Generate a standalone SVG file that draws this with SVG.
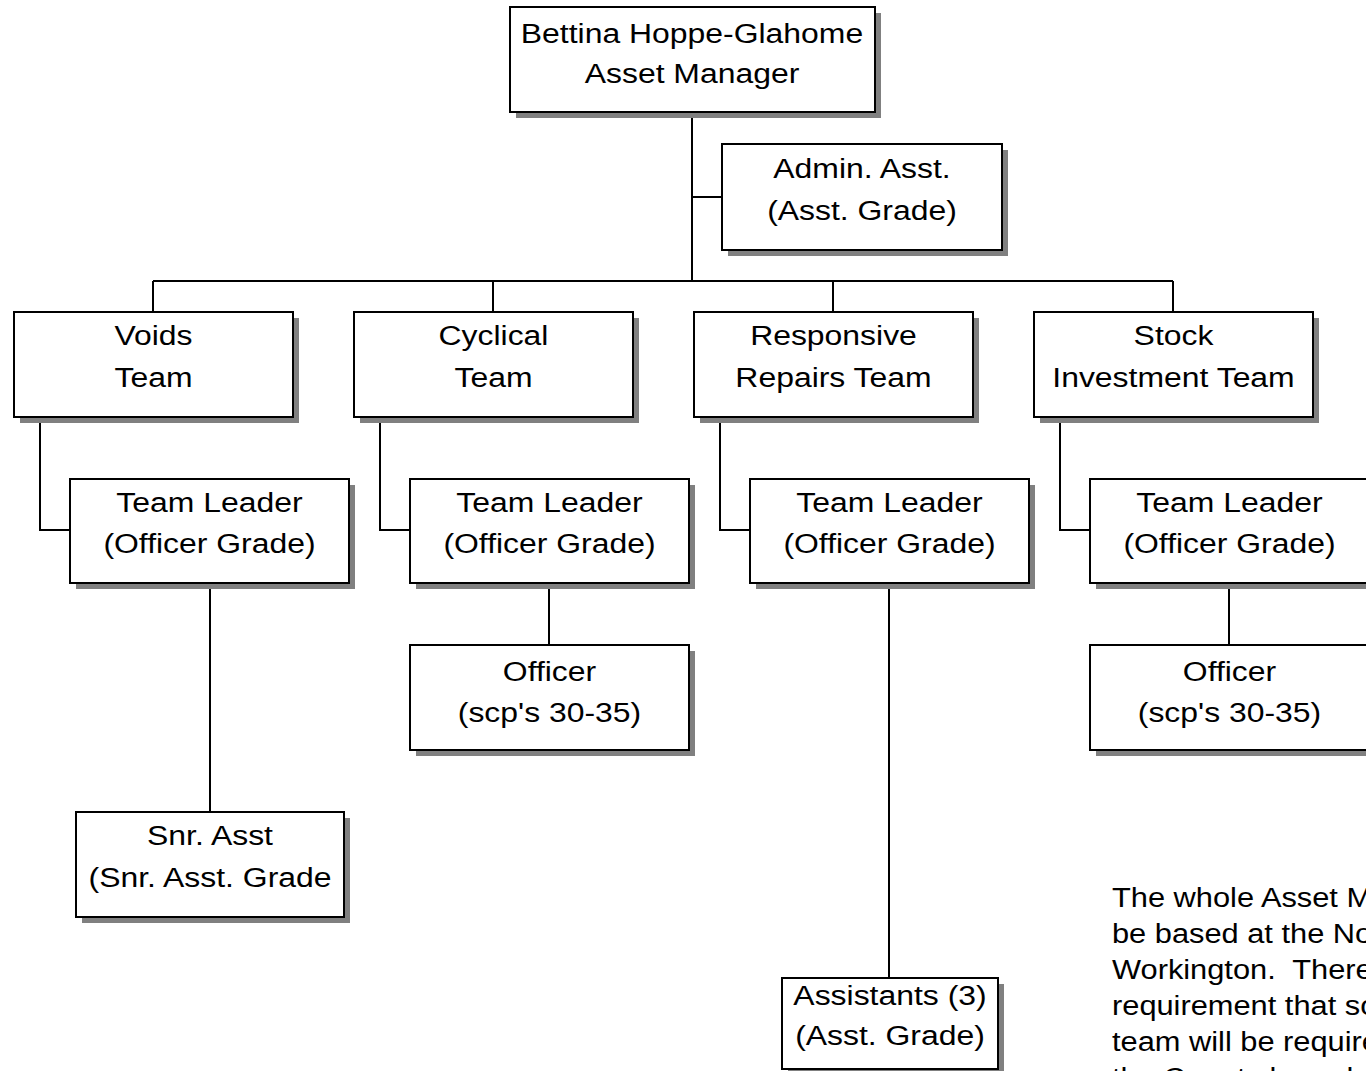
<svg xmlns="http://www.w3.org/2000/svg" width="1366" height="1071" viewBox="0 0 1366 1071">
<style>
.sh{fill:#808080}
.bx{fill:#fff;stroke:#000;stroke-width:2}
.t{font-family:"Liberation Sans",Arial,sans-serif;font-size:28px;fill:#000;text-anchor:middle}
.p{font-family:"Liberation Sans",Arial,sans-serif;font-size:28px;fill:#000;white-space:pre}
.c{fill:none;stroke:#000;stroke-width:2}
</style>
<rect width="1366" height="1071" fill="#fff"/>
<g id="connectors">
<path class="c" d="M692 112V281M692 197H722M153 281H1173M153 281V312M493 281V312M833 281V312M1173 281V312"/>
<path class="c" d="M40 417V530H70M380 417V530H410M720 417V530H750M1060 417V530H1090"/>
<path class="c" d="M210 583V812M549 583V645M889 583V978M1229 583V645"/>
</g>
<g id="n-manager"><rect class="sh" x="516" y="13" width="365" height="105"/><rect class="bx" x="510" y="7" width="365" height="105"/><text class="t" transform="translate(692 43) scale(1.14 1)">Bettina Hoppe-Glahome</text><text class="t" transform="translate(692 83) scale(1.14 1)">Asset Manager</text></g>
<g id="n-admin"><rect class="sh" x="728" y="150" width="280" height="106"/><rect class="bx" x="722" y="144" width="280" height="106"/><text class="t" transform="translate(862 178) scale(1.14 1)">Admin. Asst.</text><text class="t" transform="translate(862 220) scale(1.14 1)">(Asst. Grade)</text></g>
<g id="n-voids"><rect class="sh" x="20" y="318" width="279" height="105"/><rect class="bx" x="14" y="312" width="279" height="105"/><text class="t" transform="translate(153.5 345) scale(1.14 1)">Voids</text><text class="t" transform="translate(153.5 387) scale(1.14 1)">Team</text></g>
<g id="n-cyclical"><rect class="sh" x="360" y="318" width="279" height="105"/><rect class="bx" x="354" y="312" width="279" height="105"/><text class="t" transform="translate(493.5 345) scale(1.14 1)">Cyclical</text><text class="t" transform="translate(493.5 387) scale(1.14 1)">Team</text></g>
<g id="n-responsive"><rect class="sh" x="700" y="318" width="279" height="105"/><rect class="bx" x="694" y="312" width="279" height="105"/><text class="t" transform="translate(833.5 345) scale(1.14 1)">Responsive</text><text class="t" transform="translate(833.5 387) scale(1.14 1)">Repairs Team</text></g>
<g id="n-stock"><rect class="sh" x="1040" y="318" width="279" height="105"/><rect class="bx" x="1034" y="312" width="279" height="105"/><text class="t" transform="translate(1173.5 345) scale(1.14 1)">Stock</text><text class="t" transform="translate(1173.5 387) scale(1.14 1)">Investment Team</text></g>
<g id="n-tl-voids"><rect class="sh" x="76" y="485" width="279" height="104"/><rect class="bx" x="70" y="479" width="279" height="104"/><text class="t" transform="translate(209.5 512) scale(1.14 1)">Team Leader</text><text class="t" transform="translate(209.5 553) scale(1.14 1)">(Officer Grade)</text></g>
<g id="n-tl-cyclical"><rect class="sh" x="416" y="485" width="279" height="104"/><rect class="bx" x="410" y="479" width="279" height="104"/><text class="t" transform="translate(549.5 512) scale(1.14 1)">Team Leader</text><text class="t" transform="translate(549.5 553) scale(1.14 1)">(Officer Grade)</text></g>
<g id="n-tl-responsive"><rect class="sh" x="756" y="485" width="279" height="104"/><rect class="bx" x="750" y="479" width="279" height="104"/><text class="t" transform="translate(889.5 512) scale(1.14 1)">Team Leader</text><text class="t" transform="translate(889.5 553) scale(1.14 1)">(Officer Grade)</text></g>
<g id="n-tl-stock"><rect class="sh" x="1096" y="485" width="279" height="104"/><rect class="bx" x="1090" y="479" width="279" height="104"/><text class="t" transform="translate(1229.5 512) scale(1.14 1)">Team Leader</text><text class="t" transform="translate(1229.5 553) scale(1.14 1)">(Officer Grade)</text></g>
<g id="n-officer-cyclical"><rect class="sh" x="416" y="651" width="279" height="105"/><rect class="bx" x="410" y="645" width="279" height="105"/><text class="t" transform="translate(549.5 681) scale(1.14 1)">Officer</text><text class="t" transform="translate(549.5 722) scale(1.14 1)">(scp's 30-35)</text></g>
<g id="n-officer-stock"><rect class="sh" x="1096" y="651" width="279" height="105"/><rect class="bx" x="1090" y="645" width="279" height="105"/><text class="t" transform="translate(1229.5 681) scale(1.14 1)">Officer</text><text class="t" transform="translate(1229.5 722) scale(1.14 1)">(scp's 30-35)</text></g>
<g id="n-snr"><rect class="sh" x="82" y="818" width="268" height="105"/><rect class="bx" x="76" y="812" width="268" height="105"/><text class="t" transform="translate(210 845) scale(1.14 1)">Snr. Asst</text><text class="t" transform="translate(210 887) scale(1.14 1)">(Snr. Asst. Grade</text></g>
<g id="n-assistants"><rect class="sh" x="788" y="984" width="216" height="91"/><rect class="bx" x="782" y="978" width="216" height="91"/><text class="t" transform="translate(890 1005) scale(1.14 1)">Assistants (3)</text><text class="t" transform="translate(890 1045) scale(1.14 1)">(Asst. Grade)</text></g>
<g id="note" transform="translate(1112 0) scale(1.1 1)">
<text class="p" x="0" y="907">The whole Asset Management</text>
<text class="p" x="0" y="943">be based at the North</text>
<text class="p" x="0" y="979" xml:space="preserve">Workington.  There</text>
<text class="p" x="0" y="1015">requirement that some</text>
<text class="p" x="0" y="1051">team will be required</text>
<text class="p" x="0" y="1087">the County based</text>
</g>
</svg>
